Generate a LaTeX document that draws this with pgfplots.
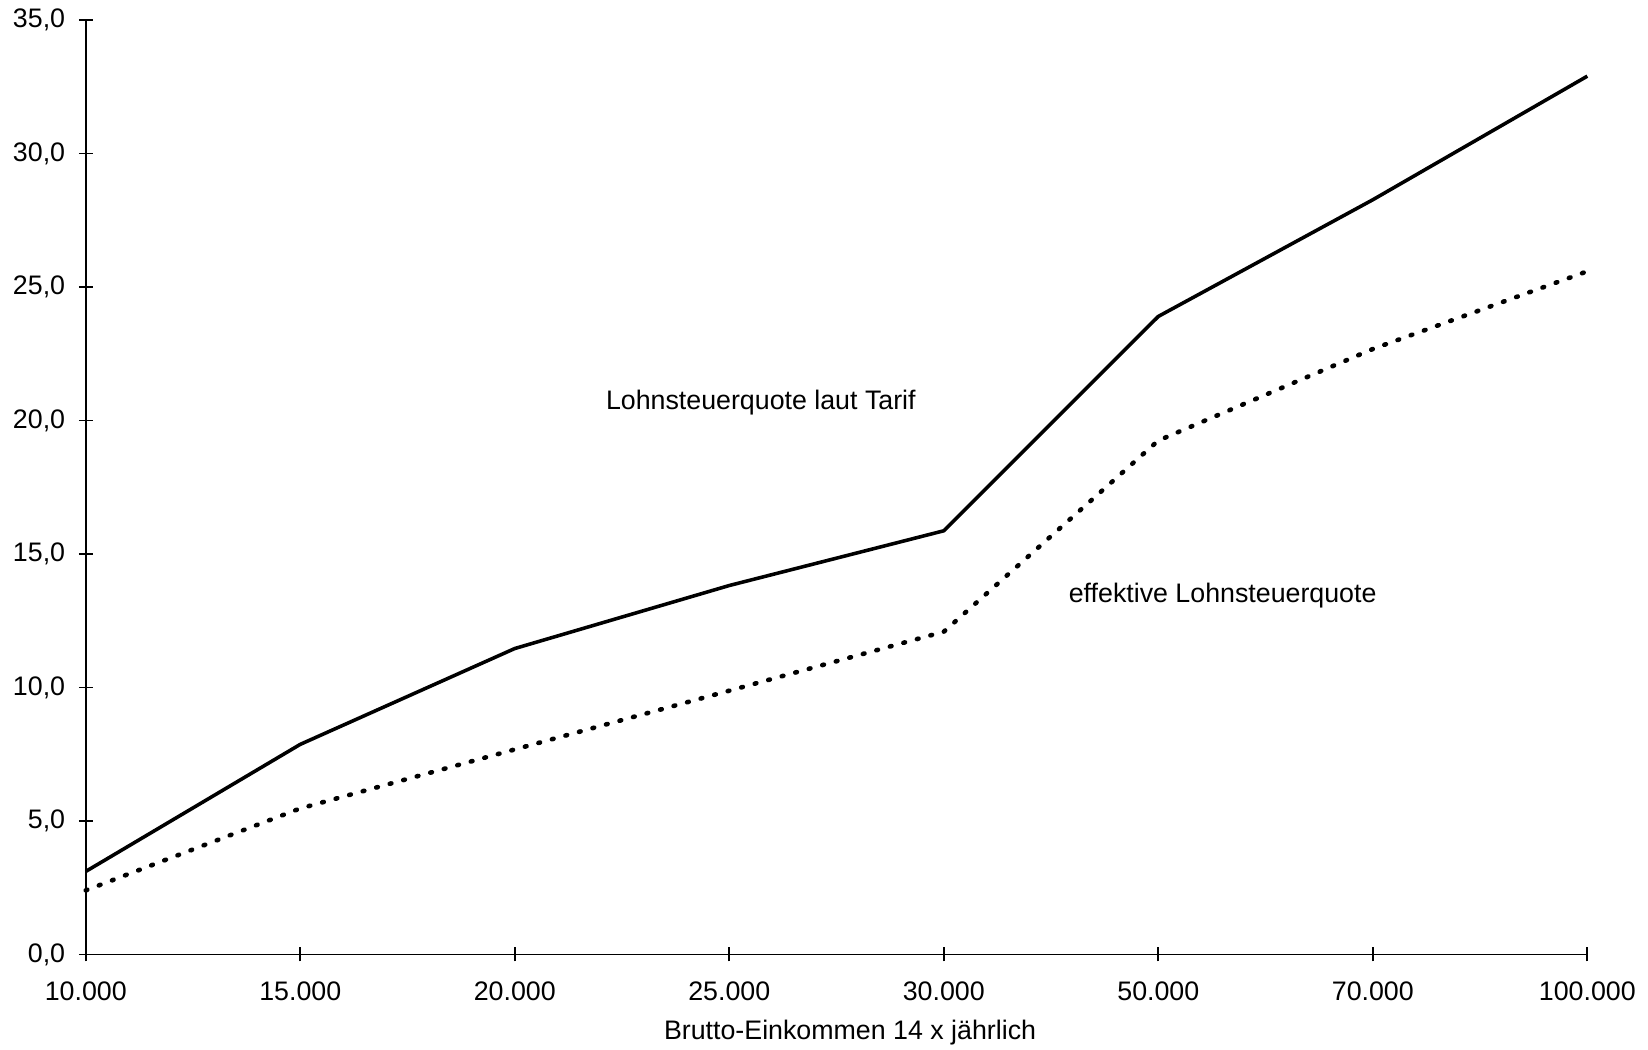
\documentclass[border=0pt]{standalone}
\usepackage{fontspec}
\setmainfont{Liberation Sans}
\usepackage{pgfplots}
\pgfplotsset{compat=1.18}

\begin{document}
\begin{tikzpicture}[font=\fontsize{12.8}{15}\selectfont]
\useasboundingbox (-41pt,-45.4pt) rectangle (746.7pt,456.2pt);
\begin{axis}[
  scale only axis,
  width=717.7pt, height=446.6pt,
  at={(0,0)}, anchor=south west,
  axis x line*=bottom, axis y line*=left,
  axis line style={line width=0.8pt},
  xmin=0, xmax=7, ymin=0, ymax=35,
  xtick={0,...,7},
  xticklabels={10.000,15.000,20.000,25.000,30.000,50.000,70.000,100.000},
  ytick={0,5,...,35},
  tick align=center,
  major tick length=6.7pt,
  tick style={line width=0.8pt, black},
  /pgf/number format/assume math mode=true,
  yticklabel={\pgfmathprintnumber[fixed, fixed zerofill, precision=1, use comma]{\tick}},
  yticklabel style={xshift=-3pt},
  xticklabel style={yshift=-6pt},
  clip=false,
]
% tax rate according to the tariff
\addplot[black, line width=1.7pt, line join=round] coordinates {
  (0,3.11) (1,7.87) (2,11.46) (3,13.82) (4,15.87) (5,23.9) (6,28.27) (7,32.9)
};
% effective tax rate
\addplot[black, line width=2.2pt, line cap=round, dash pattern=on 0.8pt off 5.9pt] coordinates {
  (0,2.4) (1,5.47) (2,7.68) (3,9.88) (4,12.09) (5,19.25) (6,22.68) (7,25.59)
};
\node at (axis cs:3.147,20.67) {Lohnsteuerquote laut Tarif};
\node at (axis cs:5.30,13.46) {effektive Lohnsteuerquote};
\node at (rel axis cs:0.509,0) [yshift=-37.5pt] {Brutto-Einkommen 14 x jährlich};
\end{axis}
\end{tikzpicture}
\end{document}
